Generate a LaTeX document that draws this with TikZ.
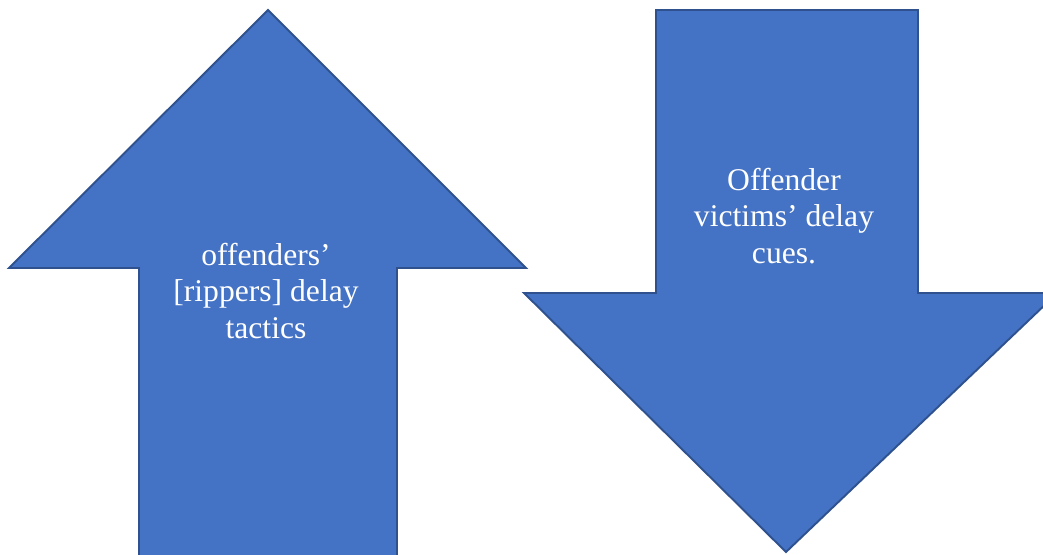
\documentclass[tikz,border=0pt]{standalone}
\usepackage{fontspec}
\setmainfont{Liberation Serif}
\definecolor{arrowfill}{HTML}{4472C4}
\definecolor{arrowline}{HTML}{2F528F}
\tikzset{
  bigarrow/.style={fill=arrowfill, draw=arrowline, line width=1.1pt, line join=miter},
  arrowtext/.style={text=white, align=center, font=\fontsize{18}{21}\selectfont}
}

\begin{document}
\begin{tikzpicture}[x=0.02cm, y=-0.02cm]
			%%%%% START %%%%%
			\useasboundingbox (0, 0) rectangle (1043, 554);
			
			% up arrow
			\draw[bigarrow] (139, 560) -- (139, 268) -- (9, 268) -- (268, 10) -- (526, 268) -- (397, 268) -- (397, 560);
			\node[arrowtext] (tactics) at (266, 291) {offenders’\\{[}rippers] delay\\tactics};
			
			% down arrow
			\draw[bigarrow] (656, 10) -- (918, 10) -- (918, 293) -- (1050, 293) -- (1050, 300) -- (786, 552) -- (524, 293) -- (656, 293) -- cycle;
			\node[arrowtext] (cues) at (784, 216) {Offender\\victims’ delay\\cues.};
			%%%%% END %%%%%
		\end{tikzpicture}
\end{document}
